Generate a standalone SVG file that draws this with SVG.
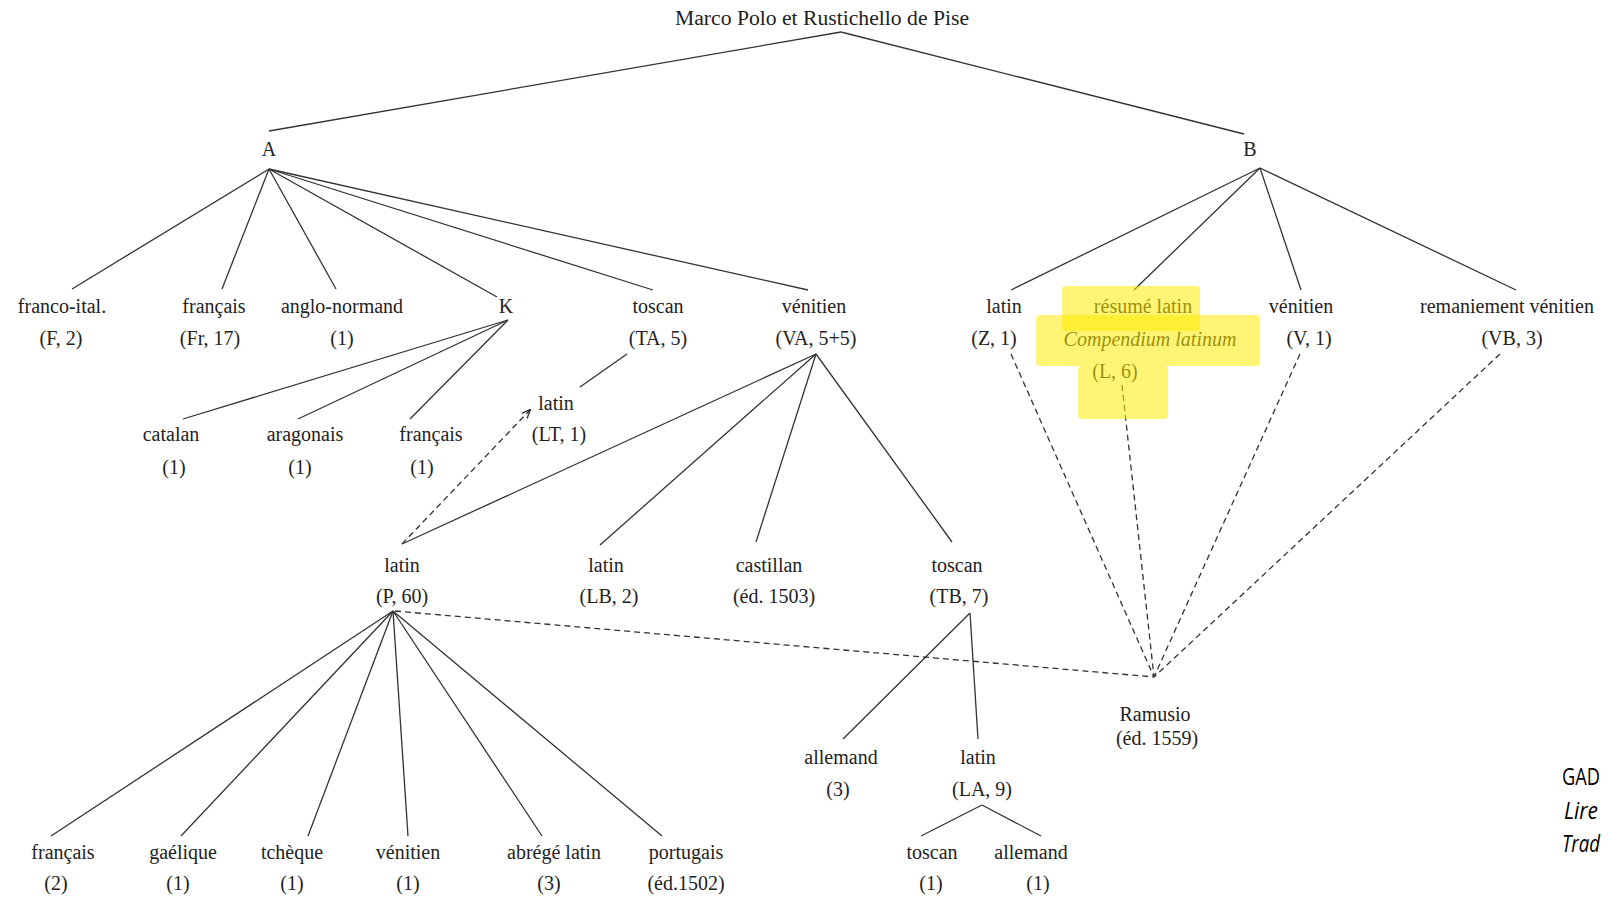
<svg xmlns="http://www.w3.org/2000/svg" width="1609" height="901" viewBox="0 0 1609 901">
<defs>
<style>
.t{font-family:"Liberation Serif","DejaVu Serif",serif;font-size:20px;fill:#222;text-anchor:middle}
.it{font-style:italic}
.s{stroke:#333;stroke-width:1.3;fill:none}
.d{stroke:#333;stroke-width:1.3;fill:none;stroke-dasharray:6 4}
.hl{fill:#ffeb00;opacity:0.55}
.note{font-family:"Open Sans","Noto Sans","Liberation Sans",sans-serif;font-size:23px;fill:#000}
</style>
<marker id="ah" viewBox="0 0 10 10" refX="9" refY="5" markerWidth="7" markerHeight="7" orient="auto">
<path d="M0,1 L10,5 L0,9" fill="none" stroke="#333" stroke-width="1.5"/>
</marker>
</defs>
<rect width="1609" height="901" fill="#fff"/>

<g id="connectors">
<line class="s" x1="841" y1="32" x2="269" y2="131"/>
<line class="s" x1="841" y1="32" x2="1244" y2="134"/>
<line class="s" x1="269" y1="169" x2="72" y2="289"/>
<line class="s" x1="269" y1="169" x2="222" y2="289"/>
<line class="s" x1="269" y1="169" x2="336" y2="289"/>
<line class="s" x1="269" y1="169" x2="497" y2="297"/>
<line class="s" x1="269" y1="169" x2="653" y2="290"/>
<line class="s" x1="269" y1="169" x2="808" y2="290"/>
<line class="s" x1="1260" y1="168" x2="1011" y2="290"/>
<line class="s" x1="1260" y1="168" x2="1134" y2="290"/>
<line class="s" x1="1260" y1="168" x2="1301" y2="290"/>
<line class="s" x1="1260" y1="168" x2="1516" y2="290"/>
<line class="s" x1="508" y1="320" x2="183" y2="419"/>
<line class="s" x1="508" y1="320" x2="298" y2="419"/>
<line class="s" x1="508" y1="320" x2="410" y2="419"/>
<line class="s" x1="627" y1="354" x2="580" y2="387"/>
<line class="d" x1="402" y1="544" x2="530" y2="410" marker-end="url(#ah)"/>
<line class="s" x1="816" y1="354" x2="402" y2="544"/>
<line class="s" x1="816" y1="354" x2="600" y2="545"/>
<line class="s" x1="816" y1="354" x2="756" y2="542"/>
<line class="s" x1="816" y1="354" x2="952" y2="542"/>
<line class="s" x1="393" y1="611" x2="51" y2="836"/>
<line class="s" x1="393" y1="611" x2="181" y2="836"/>
<line class="s" x1="393" y1="611" x2="308" y2="836"/>
<line class="s" x1="393" y1="611" x2="408" y2="836"/>
<line class="s" x1="393" y1="611" x2="542" y2="836"/>
<line class="s" x1="393" y1="611" x2="662" y2="836"/>
<line class="d" x1="395" y1="611" x2="1154" y2="677"/>
<line class="s" x1="970" y1="613" x2="843" y2="739"/>
<line class="s" x1="970" y1="613" x2="978" y2="739"/>
<line class="s" x1="982" y1="805" x2="921" y2="836"/>
<line class="s" x1="982" y1="805" x2="1041" y2="836"/>
<line class="d" x1="1011" y1="354" x2="1154" y2="677"/>
<line class="d" x1="1122" y1="385" x2="1154" y2="677"/>
<line class="d" x1="1300" y1="354" x2="1154" y2="677"/>
<line class="d" x1="1500" y1="354" x2="1154" y2="677"/>
</g>

<g id="root"><text class="t" x="822" y="25" textLength="294" lengthAdjust="spacingAndGlyphs">Marco Polo et Rustichello de Pise</text></g>
<g id="A"><text class="t" x="269" y="156">A</text></g>
<g id="B"><text class="t" x="1250" y="156">B</text></g>

<g id="franco-ital"><text class="t" x="62" y="313">franco-ital.</text><text class="t" x="61" y="345">(F, 2)</text></g>
<g id="francais-Fr"><text class="t" x="214" y="313">français</text><text class="t" x="210" y="345">(Fr, 17)</text></g>
<g id="anglo-normand"><text class="t" x="342" y="313">anglo-normand</text><text class="t" x="342" y="345">(1)</text></g>
<g id="K"><text class="t" x="506" y="313">K</text></g>
<g id="toscan-TA"><text class="t" x="658" y="313">toscan</text><text class="t" x="658" y="345">(TA, 5)</text></g>
<g id="venitien-VA"><text class="t" x="814" y="313">vénitien</text><text class="t" x="816" y="345">(VA, 5+5)</text></g>
<g id="latin-Z"><text class="t" x="1004" y="313">latin</text><text class="t" x="994" y="345">(Z, 1)</text></g>
<g id="resume-latin"><text class="t" x="1143" y="313">résumé latin</text><text class="t it" x="1150" y="346">Compendium latinum</text><text class="t" x="1115" y="378">(L, 6)</text></g>
<g id="venitien-V"><text class="t" x="1301" y="313">vénitien</text><text class="t" x="1309" y="345">(V, 1)</text></g>
<g id="remaniement"><text class="t" x="1507" y="313">remaniement vénitien</text><text class="t" x="1512" y="345">(VB, 3)</text></g>

<g id="catalan"><text class="t" x="171" y="441">catalan</text><text class="t" x="174" y="474">(1)</text></g>
<g id="aragonais"><text class="t" x="305" y="441">aragonais</text><text class="t" x="300" y="474">(1)</text></g>
<g id="francais-K"><text class="t" x="431" y="441">français</text><text class="t" x="422" y="474">(1)</text></g>
<g id="latin-LT"><text class="t" x="556" y="410">latin</text><text class="t" x="559" y="441">(LT, 1)</text></g>

<g id="latin-P"><text class="t" x="402" y="572">latin</text><text class="t" x="402" y="603">(P, 60)</text></g>
<g id="latin-LB"><text class="t" x="606" y="572">latin</text><text class="t" x="609" y="603">(LB, 2)</text></g>
<g id="castillan"><text class="t" x="769" y="572">castillan</text><text class="t" x="774" y="603">(éd. 1503)</text></g>
<g id="toscan-TB"><text class="t" x="957" y="572">toscan</text><text class="t" x="959" y="603">(TB, 7)</text></g>

<g id="ramusio"><text class="t" x="1155" y="721">Ramusio</text><text class="t" x="1157" y="745">(éd. 1559)</text></g>
<g id="allemand-TB"><text class="t" x="841" y="764">allemand</text><text class="t" x="838" y="796">(3)</text></g>
<g id="latin-LA"><text class="t" x="978" y="764">latin</text><text class="t" x="982" y="796">(LA, 9)</text></g>

<g id="francais-P"><text class="t" x="63" y="859">français</text><text class="t" x="56" y="890">(2)</text></g>
<g id="gaelique"><text class="t" x="183" y="859">gaélique</text><text class="t" x="178" y="890">(1)</text></g>
<g id="tcheque"><text class="t" x="292" y="859">tchèque</text><text class="t" x="292" y="890">(1)</text></g>
<g id="venitien-P"><text class="t" x="408" y="859">vénitien</text><text class="t" x="408" y="890">(1)</text></g>
<g id="abrege-latin"><text class="t" x="554" y="859">abrégé latin</text><text class="t" x="549" y="890">(3)</text></g>
<g id="portugais"><text class="t" x="686" y="859">portugais</text><text class="t" x="686" y="890">(éd.1502)</text></g>
<g id="toscan-LA"><text class="t" x="932" y="859">toscan</text><text class="t" x="931" y="890">(1)</text></g>
<g id="allemand-LA"><text class="t" x="1031" y="859">allemand</text><text class="t" x="1038" y="890">(1)</text></g>

<g id="highlights">
<rect class="hl" x="1062" y="286" width="138" height="45" rx="4"/>
<rect class="hl" x="1036" y="315" width="224" height="51" rx="4"/>
<rect class="hl" x="1078" y="366" width="90" height="53" rx="4"/>
</g>

<g id="reference-note">
<text class="note" x="1562" y="785" textLength="38" lengthAdjust="spacingAndGlyphs">GAD</text>
<text class="note" x="1564" y="819" font-style="italic" textLength="34" lengthAdjust="spacingAndGlyphs">Lire</text>
<text class="note" x="1562" y="852" font-style="italic" textLength="38" lengthAdjust="spacingAndGlyphs">Trad</text>
</g>
</svg>
